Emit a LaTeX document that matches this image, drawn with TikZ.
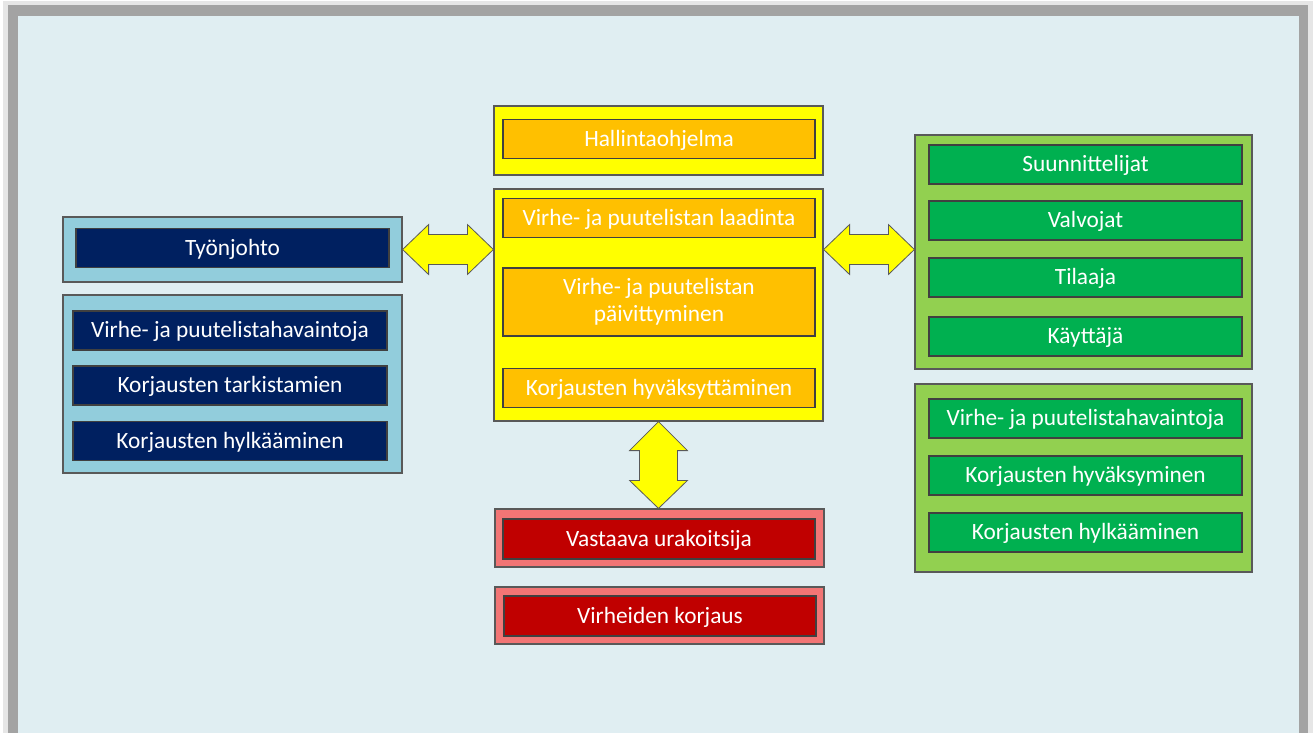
\documentclass[tikz,border=0pt]{standalone}
\usepackage{fontspec}
\setmainfont{Carlito}
\usetikzlibrary{calc}

\definecolor{pagebg}{HTML}{E0EEF2}
\definecolor{framegray}{HTML}{A3A3A3}
\definecolor{shadegray}{HTML}{E6E6E6}
\definecolor{lblue}{HTML}{92CDDC}
\definecolor{navy}{HTML}{002060}
\definecolor{yelo}{HTML}{FFFF00}
\definecolor{orng}{HTML}{FFC000}
\definecolor{lred}{HTML}{F27575}
\definecolor{dred}{HTML}{C00000}
\definecolor{lgreen}{HTML}{92D050}
\definecolor{dgreen}{HTML}{00B050}
\definecolor{edge}{HTML}{595959}

\tikzset{every picture/.style={line width=0.75pt}}
\tikzset{
  outerbox/.style={draw=edge, line width=0.9pt, inner sep=0pt},
  innerbox/.style={draw=black!75, line width=0.9pt, inner sep=0pt, text=white,
    font=\fontsize{17.5}{20}\selectfont, align=center, minimum height=29.25pt,
    text height=11pt, text depth=0pt},
  blockarrow/.style={fill=yelo, draw=edge, line width=0.6pt, line join=miter}
}

% horizontal double block arrow between two points
\newcommand{\hdblarrow}[2]{%
  \draw[blockarrow] (#1) -- ($(#1)+(26,-25)$) -- ($(#1)+(26,-15)$) -- ($(#2)+(-26,-15)$)
    -- ($(#2)+(-26,-25)$) -- (#2) -- ($(#2)+(-26,25)$) -- ($(#2)+(-26,15)$)
    -- ($(#1)+(26,15)$) -- ($(#1)+(26,25)$) -- cycle;}
% vertical double block arrow between two points
\newcommand{\vdblarrow}[2]{%
  \draw[blockarrow] (#1) -- ($(#1)+(-29,29)$) -- ($(#1)+(-19,29)$) -- ($(#2)+(-19,-28)$)
    -- ($(#2)+(-29,-28)$) -- (#2) -- ($(#2)+(29,-28)$) -- ($(#2)+(19,-28)$)
    -- ($(#1)+(19,29)$) -- ($(#1)+(29,29)$) -- cycle;}

\begin{document}
\begin{tikzpicture}[x=0.75pt,y=0.75pt,yscale=-1,xscale=1]
\useasboundingbox (0,0) rectangle (1316,733);

%Frame
\fill [white] (0,0) rectangle (1316,733);
\fill [shadegray] (3,1) rectangle (1313,733);
\fill [framegray] (8,5) rectangle (1308,733);
\fill [pagebg] (18,16) rectangle (1299,733);

%Left groups
\draw (232.5,249.5) node [outerbox, fill=lblue, minimum width=254.25pt, minimum height=48.75pt] (tyo) {};
\draw (232.5,248) node [innerbox, fill=navy, minimum width=234.75pt] (tyoin) {Työnjohto};

\draw (232.5,384) node [outerbox, fill=lblue, minimum width=254.25pt, minimum height=133.5pt] (tyotask) {};
% Text Node
\draw (230,330.5) node [innerbox, fill=navy, minimum width=235.5pt] (tyoa) {Virhe- ja puutelistahavaintoja};
% Text Node
\draw (230,385.5) node [innerbox, fill=navy, minimum width=235.5pt] (tyob) {Korjausten tarkistamien};
% Text Node
\draw (230,441) node [innerbox, fill=navy, minimum width=235.5pt] (tyoc) {Korjausten hylkääminen};

%Center groups
\draw (658.5,140.5) node [outerbox, fill=yelo, minimum width=246.75pt, minimum height=51.75pt] (hall) {};
\draw (659,139) node [innerbox, fill=orng, minimum width=234pt] (hallin) {Hallintaohjelma};

\draw (658.5,305) node [outerbox, fill=yelo, minimum width=246.75pt, minimum height=174pt] (proc) {};
% Text Node
\draw (659,218) node [innerbox, fill=orng, minimum width=234pt] (laad) {Virhe- ja puutelistan laadinta};
% Text Node
\draw (659,302) node [innerbox, fill=orng, minimum width=234pt, minimum height=51pt, text height=, text depth=] (paiv) {Virhe- ja puutelistan\\päivittyminen};
% Text Node
\draw (659,388) node [innerbox, fill=orng, minimum width=234pt] (hyv) {Korjausten hyväksyttäminen};

\draw (659.5,538) node [outerbox, fill=lred, minimum width=246.75pt, minimum height=43.5pt] (urak) {};
\draw (659,539) node [innerbox, fill=dred, minimum width=234pt, minimum height=30pt] (urakin) {Vastaava urakoitsija};

\draw (659.5,615.5) node [outerbox, fill=lred, minimum width=246.75pt, minimum height=42.75pt] (korj) {};
\draw (660,616) node [innerbox, fill=dred, minimum width=234pt, minimum height=30pt] (korjin) {Virheiden korjaus};

%Right groups
\draw (1083.5,252) node [outerbox, fill=lgreen, minimum width=252.75pt, minimum height=175.5pt] (tilaaja) {};
% Text Node
\draw (1085.5,164.5) node [innerbox, fill=dgreen, minimum width=234.75pt] (suun) {Suunnittelijat};
% Text Node
\draw (1085.5,220.5) node [innerbox, fill=dgreen, minimum width=234.75pt] (valv) {Valvojat};
% Text Node
\draw (1085.5,277.5) node [innerbox, fill=dgreen, minimum width=234.75pt] (tila) {Tilaaja};
% Text Node
\draw (1085.5,336.5) node [innerbox, fill=dgreen, minimum width=234.75pt] (kayt) {Käyttäjä};

\draw (1083.5,478) node [outerbox, fill=lgreen, minimum width=252.75pt, minimum height=141pt] (tiltask) {};
% Text Node
\draw (1085.5,418.5) node [innerbox, fill=dgreen, minimum width=234.75pt] (tilaa) {Virhe- ja puutelistahavaintoja};
% Text Node
\draw (1085.5,475.5) node [innerbox, fill=dgreen, minimum width=234.75pt] (tilab) {Korjausten hyväksyminen};
% Text Node
\draw (1085.5,532.5) node [innerbox, fill=dgreen, minimum width=234.75pt] (tilac) {Korjausten hylkääminen};

%Block arrows
\hdblarrow{tyo.east}{tyo.east -| proc.west}
\hdblarrow{proc.east |- tyo.east}{tilaaja.west |- tyo.east}
\vdblarrow{proc.south}{proc.south |- urak.north}

\end{tikzpicture}
\end{document}
